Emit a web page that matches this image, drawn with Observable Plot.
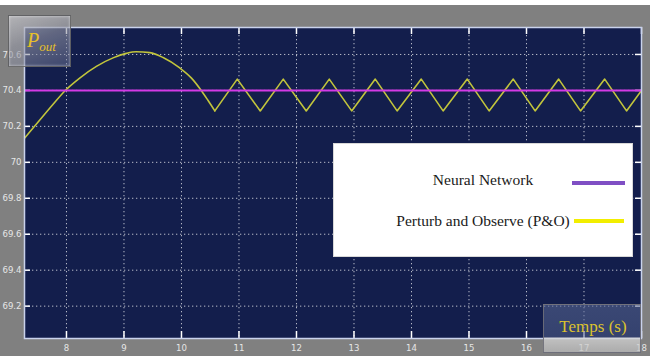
<!DOCTYPE html>
<html>
<head>
<meta charset="utf-8">
<script src="https://cdn.jsdelivr.net/npm/d3@7"></script>
<script src="https://cdn.jsdelivr.net/npm/@observablehq/plot@0.6"></script>
<style>
  html, body { margin: 0; padding: 0; background: #ffffff; }
  #wrap { position: relative; width: 650px; height: 356px; overflow: hidden; }
  #chart { position: absolute; left: 0px; top: 5px; }
  .legend { position: absolute; left: 333px; top: 143px; width: 300px; height: 114px;
            background: #ffffff; border: 1px solid #d8d8d8; box-sizing: border-box; }
  .ltext { position: absolute; font-family: "Liberation Serif", "Times New Roman", serif;
           font-size: 15.5px; color: #1a1a1a; white-space: nowrap; transform: translate(-50%, -50%); }
  .lline { position: absolute; height: 4px; }
  .pbox { position: absolute; left: 8px; top: 15px; width: 63px; height: 52px; box-sizing: border-box;
          border: 1px solid rgba(90,90,90,0.8);
          background: linear-gradient(160deg, rgba(200,200,205,0.7) 0%, rgba(150,152,165,0.6) 45%, rgba(110,118,150,0.45) 100%);
          box-shadow: inset 0 0 3px rgba(255,255,255,0.6); }
  .ptext { position: absolute; left: 27px; top: 30px; font-family: "Liberation Serif", serif; font-style: italic;
           color: #e6c02a; font-size: 20px; line-height: 20px; }
  .ptext sub { font-size: 13px; vertical-align: -4px; }
  .tbox { position: absolute; left: 543px; top: 304px; width: 98px; height: 49px; box-sizing: border-box;
          border: 1px solid rgba(110,110,120,0.9);
          background: linear-gradient(180deg, rgba(90,105,150,0.55) 0%, rgba(80,95,140,0.55) 68%, rgba(215,215,215,0.75) 70%, rgba(190,190,190,0.7) 100%); }
  .ttext { position: absolute; left: 593px; top: 327px; transform: translate(-50%, -50%);
           font-family: "Liberation Serif", serif; font-size: 17px; color: #dcc22e; white-space: nowrap; }
</style>
</head>
<body>
<div id="wrap">
  <div id="chart"></div>
</div>
<script>
// ---- data ----
const xTicks = [8, 9, 10, 11, 12, 13, 14, 15, 16, 17, 18];
const yTicks = [69.2, 69.4, 69.6, 69.8, 70, 70.2, 70.4, 70.6];
const xDomain = [7.27, 18.0];
const yDomain = [69.02, 70.75];

const seriesNames = ["Neural Network", "Perturb and Observe (P&O)"];

// Neural Network output (flat)
const nnTime = [7.27, 18.0];
const nnPower = [70.4, 70.4];

// Perturb and Observe output: initial arc, then triangular oscillation
const poArcTime = [7.27, 7.47, 7.76, 7.97, 8.23, 8.52, 8.81, 9.04, 9.21, 9.45, 9.68, 9.97, 10.17, 10.35, 10.46, 10.58];
const poArcPower = [70.134, 70.21, 70.32, 70.397, 70.469, 70.534, 70.581, 70.606, 70.615, 70.61, 70.583, 70.525, 70.47, 70.397, 70.345, 70.286];
const poOscTime = [10.58, 10.97, 11.37, 11.77, 12.17, 12.57, 12.96, 13.37, 13.75, 14.17, 14.55, 14.97, 15.35, 15.77, 16.15, 16.56, 16.94, 17.36, 17.74, 18.0];
const poOscPower = [70.286, 70.463, 70.286, 70.463, 70.286, 70.463, 70.286, 70.463, 70.286, 70.463, 70.286, 70.463, 70.286, 70.463, 70.286, 70.463, 70.286, 70.463, 70.286, 70.40];

const nnData = nnTime.map((t, i) => ({t, p: nnPower[i]}));
const arcData = poArcTime.map((t, i) => ({t, p: poArcPower[i]}));
const oscData = poOscTime.map((t, i) => ({t, p: poOscPower[i]}));

const W = 650, H = 351, mL = 24, mR = 9, mT = 22, mB = 18;
const innerW = W - mL - mR, innerH = H - mT - mB;

const plot = Plot.plot({
  width: W, height: H,
  marginLeft: mL, marginRight: mR, marginTop: mT, marginBottom: mB,
  style: { background: "#808080", fontFamily: "'Liberation Sans Narrow', 'DejaVu Sans Condensed', sans-serif" },
  x: { domain: xDomain, ticks: xTicks },
  y: { domain: yDomain, ticks: yTicks },
  marks: [
    Plot.frame({ fill: "#131e4c", stroke: null }),
    Plot.gridX(xTicks, { stroke: "#ffffff", strokeOpacity: 0.7, strokeDasharray: "1.3,2.7" }),
    Plot.gridY(yTicks, { stroke: "#ffffff", strokeOpacity: 0.7, strokeDasharray: "1.3,2.7" }),
    // inward tick marks
    Plot.tickX(xTicks, { x: d => d, stroke: "#ffffff", strokeWidth: 1.5, insetTop: innerH - 7 }),
    Plot.tickX(xTicks, { x: d => d, stroke: "#ffffff", strokeWidth: 1.5, insetBottom: innerH - 7 }),
    Plot.tickY(yTicks, { y: d => d, stroke: "#ffffff", strokeWidth: 1.5, insetRight: innerW - 6 }),
    Plot.tickY(yTicks, { y: d => d, stroke: "#ffffff", strokeWidth: 1.5, insetLeft: innerW - 6 }),
    Plot.line(arcData, { x: "t", y: "p", stroke: "#c2c53c", strokeWidth: 1.6, curve: "monotone-x", clip: true }),
    Plot.line(oscData, { x: "t", y: "p", stroke: "#c2c53c", strokeWidth: 1.6, clip: true }),
    Plot.line(nnData, { x: "t", y: "p", stroke: "#d43ae6", strokeWidth: 2, clip: true }),
    Plot.frame({ stroke: "#c9d2ec", strokeWidth: 1.5 }),
    Plot.axisX(xTicks, { tickSize: 0, tickPadding: 6, fill: "#e6e6e6", fontSize: 9.5, tickFormat: d => String(d), label: null }),
    Plot.axisY(yTicks, { tickSize: 0, tickPadding: 3, fill: "#e6e6e6", fontSize: 9.5, tickFormat: d => String(d), label: null })
  ]
});
document.getElementById("chart").appendChild(plot);

// overlays: legend and the two glassy label boxes
const wrap = document.getElementById("wrap");
const legend = document.createElement("div");
legend.className = "legend";
wrap.appendChild(legend);

const legendColors = ["#7f4fc4", "#f2ee00"];
const legendRows = [{ y: 180, x1: 572, x2: 625 }, { y: 221, x1: 574, x2: 624 }];
seriesNames.forEach((name, i) => {
  const t = document.createElement("div");
  t.className = "ltext";
  t.style.left = "483px";
  t.style.top = legendRows[i].y + "px";
  t.textContent = name;
  wrap.appendChild(t);
  const l = document.createElement("div");
  l.className = "lline";
  l.style.left = legendRows[i].x1 + "px";
  l.style.width = (legendRows[i].x2 - legendRows[i].x1) + "px";
  l.style.top = (legendRows[i].y + (i === 0 ? 1 : -2)) + "px";
  l.style.background = legendColors[i];
  wrap.appendChild(l);
});

const pbox = document.createElement("div"); pbox.className = "pbox"; wrap.appendChild(pbox);
const ptext = document.createElement("div"); ptext.className = "ptext";
ptext.innerHTML = "P<sub>out</sub>"; wrap.appendChild(ptext);

const tbox = document.createElement("div"); tbox.className = "tbox"; wrap.appendChild(tbox);
const ttext = document.createElement("div"); ttext.className = "ttext";
ttext.textContent = "Temps (s)"; wrap.appendChild(ttext);
</script>
</body>
</html>
